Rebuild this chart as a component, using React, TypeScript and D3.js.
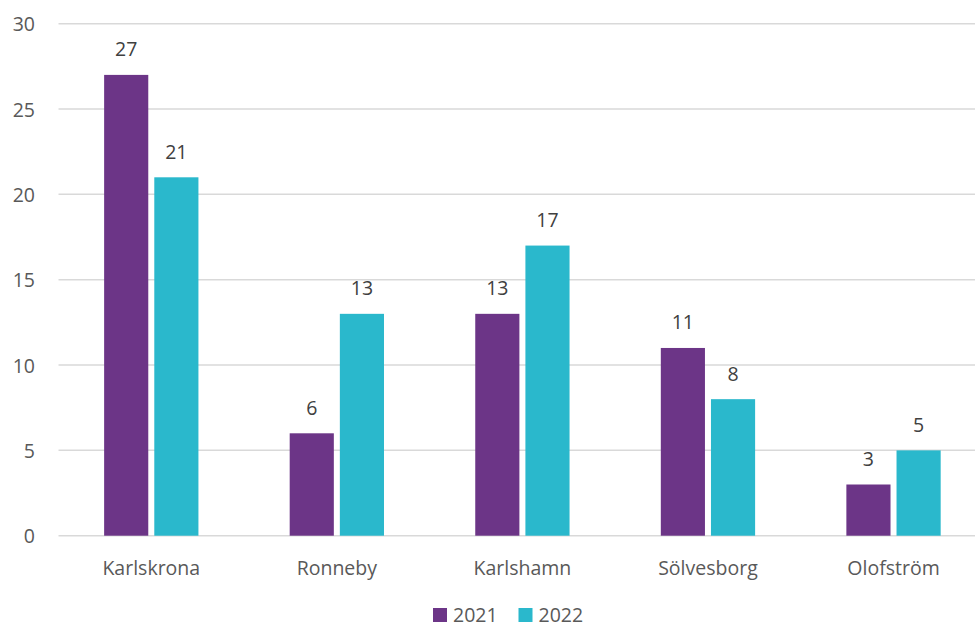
import React from "react";
import * as d3 from "d3";

const categories = ["Karlskrona", "Ronneby", "Karlshamn", "Sölvesborg", "Olofström"];
const seriesNames = ["2021", "2022"];
const values2021 = [27, 6, 13, 11, 3];
const values2022 = [21, 13, 17, 8, 5];
const yTicks = [0, 5, 10, 15, 20, 25, 30];
const colors = ["#6C3587", "#2AB8CC"];

export default function App() {
  const W = 975, H = 628;
  const left = 58.5, right = 986.3, top = 23.7, bottom = 535.7;
  const font = "'Open Sans', 'Noto Sans', sans-serif";
  const fs = 19.5;
  const x = d3.scaleBand<string>().domain(categories).range([left, right]).paddingInner(0).paddingOuter(0);
  const groupW = 94.3;
  const inner = d3.scaleBand<string>().domain(seriesNames).range([0, groupW]).paddingInner(0.12);
  const y = d3.scaleLinear().domain([0, 30]).range([bottom, top]);
  const series = [values2021, values2022];

  return (
    <div style={{ position: "fixed", left: 0, top: 0 }}>
      <svg width={W} height={H} style={{ display: "block", background: "#fff" }} fontFamily={font}>
        {yTicks.map((t) => (
          <g key={t}>
            <line x1={left} x2={right} y1={y(t)} y2={y(t)} stroke="#d9d9d9" strokeWidth={1.5} />
            <text x={35} y={y(t) + 7.5} textAnchor="end" fontSize={fs} fill="#595959">{t}</text>
          </g>
        ))}
        {categories.map((c, i) => {
          const gx = (x(c) as number) + x.bandwidth() / 2 - groupW / 2;
          return (
            <g key={c}>
              {series.map((vals, s) => {
                const bx = gx + (inner(seriesNames[s]) as number);
                const bw = inner.bandwidth();
                return (
                  <g key={s}>
                    <rect x={bx} y={y(vals[i])} width={bw} height={bottom - y(vals[i])} fill={colors[s]} />
                    <text x={bx + bw / 2} y={y(vals[i]) - 18.5} textAnchor="middle" fontSize={fs} fill="#404040">{vals[i]}</text>
                  </g>
                );
              })}
              <text x={(x(c) as number) + x.bandwidth() / 2} y={575} textAnchor="middle" fontSize={fs} fill="#595959">{c}</text>
            </g>
          );
        })}
        {seriesNames.map((n, s) => {
          const lx = s === 0 ? 433 : 518.5;
          return (
            <g key={n}>
              <rect x={lx} y={608} width={14} height={14} fill={colors[s]} />
              <text x={lx + 20} y={621.5} fontSize={fs} fill="#595959">{n}</text>
            </g>
          );
        })}
      </svg>
    </div>
  );
}
